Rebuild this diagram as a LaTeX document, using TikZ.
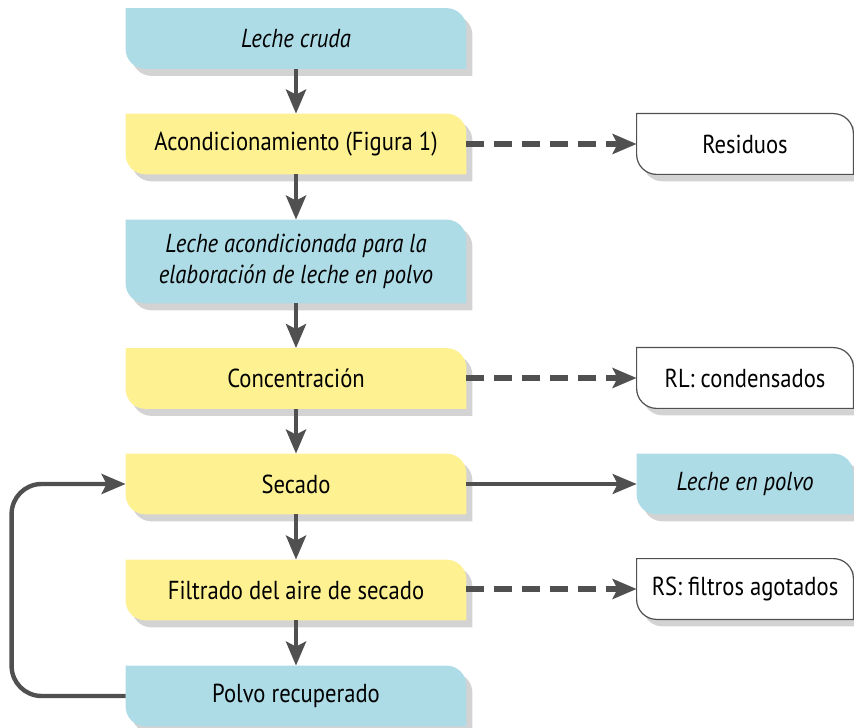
\documentclass[tikz,border=0pt]{standalone}
\usepackage{fontspec}
\setmainfont{PT Sans}[FakeStretch=0.87]
\usetikzlibrary{arrows.meta,shadows,backgrounds}

\definecolor{milkblue}{RGB}{173,219,230}
\definecolor{stepyellow}{RGB}{254,241,146}
\definecolor{flowgray}{RGB}{80,80,80}

\tikzset{
  box/.style={minimum height=30pt, inner sep=0pt, align=center,
    font=\fontsize{13}{15.5}\selectfont},
  leftbox/.style={box, minimum width=170pt},
  rightbox/.style={box, minimum width=108pt},
  boxshadow/.style={drop shadow={shadow xshift=3pt, shadow yshift=-3.5pt, opacity=0.35}},
  bluefill/.style={fill=milkblue, boxshadow},
  yellowfill/.style={fill=stepyellow, boxshadow},
  whitefill/.style={fill=white, draw=flowgray, line width=0.6pt, boxshadow},
  flow/.style={flowgray, line width=2.2pt, -{Stealth[length=12pt, width=10pt, inset=2.5pt]}},
  waste/.style={flow, line width=2.6pt, dash pattern=on 9pt off 5pt},
}

\begin{document}
\begin{tikzpicture}[x=0.5pt, y=0.5pt]
  \useasboundingbox (0,0) rectangle (854,727);

  % main line
  \node[leftbox] (cruda)  at (296,688.5) {\itshape Leche cruda};
  \node[leftbox] (acond)  at (296,583)   {Acondicionamiento (Figura 1)};
  \node[leftbox, minimum height=41.5pt] (lacond) at (296,465.5)
    {\itshape Leche acondicionada para la\\\itshape elaboración de leche en polvo};
  \node[leftbox] (conc)   at (296,348.5) {Concentración};
  \node[leftbox] (secado) at (296,243)   {Secado};
  \node[leftbox] (filtr)  at (296,137)   {Filtrado del aire de secado};
  \node[leftbox] (polvo)  at (296,31)    {Polvo recuperado};

  % outputs
  \node[rightbox] (resid)  at (745,583)   {Residuos};
  \node[rightbox] (rl)     at (745,349)   {RL: condensados};
  \node[rightbox] (lpolvo) at (745,243)   {\itshape Leche en polvo};
  \node[rightbox] (rs)     at (745,138)   {RS: filtros agotados};

  \begin{scope}[on background layer]
    \foreach \n/\s in {cruda/bluefill, acond/yellowfill, lacond/bluefill,
        conc/yellowfill, secado/yellowfill, filtr/yellowfill, polvo/bluefill,
        resid/whitefill, rl/whitefill, lpolvo/bluefill, rs/whitefill}
      \path[\s] (\n.north west) -- ([xshift=-10pt]\n.north east)
        arc[start angle=90, end angle=0, radius=10pt] -- (\n.south east)
        -- ([xshift=10pt]\n.south west)
        arc[start angle=270, end angle=180, radius=10pt] -- cycle;
  \end{scope}

  \foreach \a/\b in {cruda/acond, acond/lacond, lacond/conc, conc/secado,
      secado/filtr, filtr/polvo}
    \draw[flow] (\a) -- (\b);

  \draw[waste] (acond) -- (resid);
  \draw[waste] (conc.east |- rl) -- (rl);
  \draw[flow, line width=1.6pt] (secado) -- (lpolvo);
  \draw[waste] (filtr.east |- rs) -- (rs);

  % recycle
  \draw[flow, rounded corners=15pt] (polvo.west) -- ++(-114,0) |- (secado.west);
\end{tikzpicture}
\end{document}
